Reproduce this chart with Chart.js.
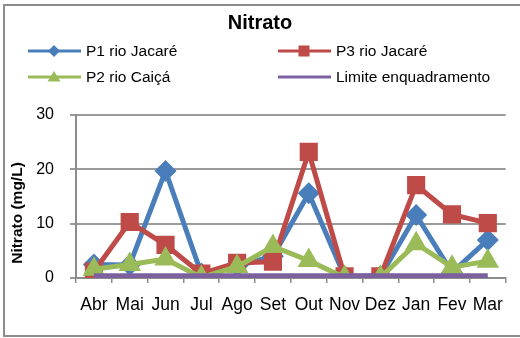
<!DOCTYPE html>
<html>
<head>
<meta charset="utf-8">
<script src="https://cdn.jsdelivr.net/npm/chart.js@4/dist/chart.umd.min.js"></script>
<style>
  html, body { margin: 0; padding: 0; background: #fff; }
  #wrap { position: relative; width: 520px; height: 338px; }
</style>
</head>
<body>
<div id="wrap"><canvas id="c" width="520" height="338"></canvas></div>
<script>
// Nitrate concentration (mg/L) by month
const months = ['Abr', 'Mai', 'Jun', 'Jul', 'Ago', 'Set', 'Out', 'Nov', 'Dez', 'Jan', 'Fev', 'Mar'];
const p1Jacare = [2.5, 2.4, 19.7, 0.8, 2.2, 4.0, 15.6, 0.3, 0.3, 11.6, 1.0, 7.0];
const p3Jacare = [1.2, 10.3, 6.1, 0.8, 2.8, 3.0, 23.2, 0.3, 0.3, 17.1, 11.7, 10.1];
const p2Caica = [1.6, 2.5, 3.5, 0.1, 2.1, 5.8, 3.2, 0.1, 0.1, 6.3, 2.0, 3.1];
const limite = [0.4, 0.4, 0.4, 0.4, 0.4, 0.4, 0.4, 0.4, 0.4, 0.4, 0.4, 0.4];
const yTicks = [0, 10, 20, 30];

const FONT = '"Liberation Sans", Arial, sans-serif';
const BLUE = '#4A7EBB', RED = '#BE4B48', GREEN = '#9BBB59', PURPLE = '#7D60A0';

// Title, two-column legend, rotated axis title and outer frame
const decor = {
  id: 'decor',
  afterDraw(chart) {
    const ctx = chart.ctx;
    ctx.save();
    // frame
    ctx.strokeStyle = '#8c8c8c';
    ctx.lineWidth = 2;
    ctx.strokeRect(4, 5, 540, 331);
    // title
    ctx.fillStyle = '#000';
    ctx.font = 'bold 20px ' + FONT;
    ctx.textAlign = 'center';
    ctx.textBaseline = 'middle';
    ctx.fillText('Nitrato', 260, 23);
    // legend
    const slots = [[28, 51], [278, 51], [28, 77], [278, 77]];
    chart.data.datasets.forEach((ds, i) => {
      const [x, y] = slots[i];
      ctx.strokeStyle = ds.borderColor;
      ctx.lineWidth = 3;
      ctx.beginPath();
      ctx.moveTo(x, y);
      ctx.lineTo(x + 53, y);
      ctx.stroke();
      const mx = x + 26;
      ctx.fillStyle = ds.borderColor;
      ctx.beginPath();
      if (ds.pointStyle === 'rectRot') {
        ctx.moveTo(mx, y - 6); ctx.lineTo(mx + 6, y); ctx.lineTo(mx, y + 6); ctx.lineTo(mx - 6, y);
      } else if (ds.pointStyle === 'rect') {
        ctx.rect(mx - 5.5, y - 5.5, 11, 11);
      } else if (ds.pointStyle === 'triangle') {
        ctx.moveTo(mx, y - 6); ctx.lineTo(mx + 6.5, y + 4.5); ctx.lineTo(mx - 6.5, y + 4.5);
      }
      ctx.closePath();
      if (ds.pointStyle) ctx.fill();
      ctx.fillStyle = '#000';
      ctx.font = '15.5px ' + FONT;
      ctx.textAlign = 'left';
      ctx.fillText(ds.label, x + 58, y + 1);
    });
    // y axis title
    ctx.translate(18, 213);
    ctx.rotate(-Math.PI / 2);
    ctx.font = 'bold 15.5px ' + FONT;
    ctx.textAlign = 'center';
    ctx.fillText('Nitrato (mg/L)', 0, 0);
    ctx.restore();
  }
};

new Chart(document.getElementById('c'), {
  type: 'line',
  data: {
    labels: months,
    datasets: [
      { label: 'P1 rio Jacaré', data: p1Jacare, borderColor: BLUE, backgroundColor: BLUE,
        pointStyle: 'rectRot', pointRadius: 7.5, borderWidth: 5, order: 4 },
      { label: 'P3 rio Jacaré', data: p3Jacare, borderColor: RED, backgroundColor: RED,
        pointStyle: 'rect', pointRadius: 9.3, borderWidth: 5, order: 3 },
      { label: 'P2 rio Caiçá', data: p2Caica, borderColor: GREEN, backgroundColor: GREEN,
        pointStyle: 'triangle', pointRadius: 8, borderWidth: 5, order: 2 },
      { label: 'Limite enquadramento', data: limite, borderColor: PURPLE, backgroundColor: PURPLE,
        pointStyle: false, pointRadius: 0, borderWidth: 5, order: 1 }
    ]
  },
  options: {
    responsive: false,
    animation: false,
    layout: { padding: { top: 115, right: 6, left: 0, bottom: 0 } },
    plugins: {
      legend: { display: false },
      title: { display: false },
      tooltip: { enabled: false }
    },
    elements: { line: { tension: 0 } },
    scales: {
      x: {
        offset: true,
        afterFit(s) { s.height = 60; },
        grid: { drawOnChartArea: false, drawTicks: true, tickLength: 5, color: '#8c8c8c', lineWidth: 1.5, offset: true },
        border: { color: '#8c8c8c', width: 2 },
        ticks: { color: '#000', font: { family: FONT, size: 17.5 }, padding: 12, maxRotation: 0, autoSkip: false }
      },
      y: {
        min: 0, max: 30,
        afterFit(s) { s.width = 76; },
        afterBuildTicks(s) { s.ticks = yTicks.map(v => ({ value: v })); },
        grid: { color: '#9a9a9a', lineWidth: 2, tickLength: 6, drawTicks: true },
        border: { color: '#8c8c8c', width: 2 },
        ticks: { color: '#000', font: { family: FONT, size: 16 }, padding: 16 }
      }
    }
  },
  plugins: [decor]
});
</script>
</body>
</html>
